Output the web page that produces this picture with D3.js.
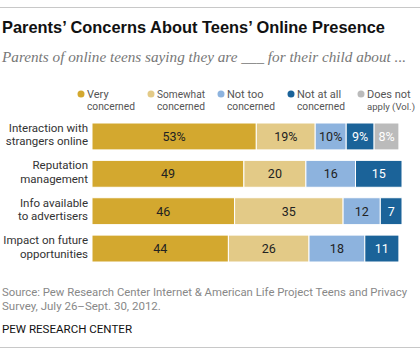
<!DOCTYPE html>
<html><head><meta charset="utf-8">
<script src="https://cdn.jsdelivr.net/npm/d3@7"></script>
<style>
html,body{margin:0;padding:0;background:#fff;}
svg{display:block;}
</style></head>
<body>
<svg id="chart" width="420" height="357"></svg>
<script>
const categories = [
  ["Interaction with","strangers online"],
  ["Reputation","management"],
  ["Info available","to advertisers"],
  ["Impact on future","opportunities"]
];
const seriesKeys = ["very","somewhat","notToo","notAtAll","na"];
const seriesLabels = [["Very","concerned"],["Somewhat","concerned"],["Not too","concerned"],["Not at all","concerned"],["Does not","apply (Vol.)"]];
const veryConcerned     = [53,49,46,44];
const somewhatConcerned = [19,20,35,26];
const notTooConcerned   = [10,16,12,18];
const notAtAllConcerned = [9,15,7,11];
const doesNotApply      = [8,0,0,0];
const colors = ["#D3A82F","#E3CA87","#8DB3DE","#1B6399","#BBBBBB"];
const textColors = ["#222","#222","#222","#fff","#fff"];

const title = "Parents\u2019 Concerns About Teens\u2019 Online Presence";
const subtitle = "Parents of online teens saying they are ___ for their child about ...";
const source1 = "Source: Pew Research Center Internet & American Life Project Teens and Privacy";
const source2 = "Survey, July 26\u2013Sept. 30, 2012.";
const credit = "PEW RESEARCH CENTER";

const seriesValues = [veryConcerned, somewhatConcerned, notTooConcerned, notAtAllConcerned, doesNotApply];
const rows = categories.map((c,i)=>{
  const r = {idx:i};
  seriesKeys.forEach((k,j)=> r[k] = seriesValues[j][i]);
  return r;
});
const stacked = d3.stack().keys(seriesKeys)(rows);

const svg = d3.select("#chart");
const sans = "Roboto, 'Liberation Sans', sans-serif";

// rules
svg.append("line").attr("x1",0).attr("x2",420).attr("y1",7.5).attr("y2",7.5).attr("stroke","#c8c8c8");
svg.append("line").attr("x1",0).attr("x2",420).attr("y1",347.5).attr("y2",347.5).attr("stroke","#c8c8c8");

function fit(sel, w){ sel.attr("textLength",w).attr("lengthAdjust","spacingAndGlyphs"); }
function shrinkTo(sel, w){ sel.each(function(){ const n=this; const cw=n.getComputedTextLength(); if(cw>w){ const fs=parseFloat(d3.select(n).attr("font-size")); d3.select(n).attr("font-size",fs*w/cw); } }); }

svg.append("text").attr("x",2).attr("y",33).attr("font-family","'Liberation Sans', Arial, sans-serif")
  .attr("font-weight","bold").attr("font-size",17).attr("fill","#111").text(title).call(fit,383);
svg.append("text").attr("x",2).attr("y",62).attr("font-family","'Liberation Serif', 'DejaVu Serif', serif")
  .attr("font-style","italic").attr("font-size",14.5).attr("fill","#777").text(subtitle).call(fit,404);

// legend
const lx = d3.scalePoint().domain(seriesKeys).range([81,361]);
const lg = svg.append("g").selectAll("g").data(seriesKeys).join("g")
  .attr("transform",d=>`translate(${lx(d)},0)`);
lg.append("circle").attr("cx",0).attr("cy",94).attr("r",3.5).attr("fill",(d,i)=>colors[i]);
lg.append("text").attr("x",6).attr("y",98).attr("font-family",sans).attr("font-size",11).attr("fill","#555")
  .text((d,i)=>seriesLabels[i][0]).call(shrinkTo,48);
lg.append("text").attr("x",6).attr("y",110).attr("font-family",sans).attr("font-size",11).attr("fill","#555")
  .text((d,i)=>seriesLabels[i][1]).call(shrinkTo,48);

// scales
const x = d3.scaleLinear().domain([0,100]).range([92,402]);
const y = d3.scaleBand().domain(categories.map((c,i)=>i)).range([123,262]).paddingInner(0.28);

// bars
const layers = svg.append("g").selectAll("g").data(stacked).join("g")
  .attr("fill",(d,i)=>colors[i]);
layers.selectAll("rect").data(d=>d.filter(s=>s[1]-s[0]>0)).join("rect")
  .attr("x",d=>x(d[0])).attr("width",d=>x(d[1])-x(d[0]))
  .attr("y",d=>y(d.data.idx)).attr("height",y.bandwidth())
  .attr("stroke","#fff").attr("stroke-width",1);

// value labels
stacked.forEach((layer,j)=>{
  svg.append("g").selectAll("text").data(layer.filter(s=>s[1]-s[0]>0)).join("text")
    .attr("x",d=>(x(d[0])+x(d[1]))/2).attr("y",d=>y(d.data.idx)+y.bandwidth()/2+4.5)
    .attr("text-anchor","middle").attr("font-family",sans).attr("font-size",12.5)
    .attr("fill",textColors[j])
    .text(d=>(d[1]-d[0]) + (d.data.idx===0?"%":""));
});

// category labels
const cl = svg.append("g").selectAll("text").data(categories).join("text")
  .attr("text-anchor","end").attr("font-family",sans).attr("font-size",11.5).attr("fill","#333");
cl.append("tspan").attr("x",88).attr("y",(d,i)=>y(i)+y.bandwidth()/2-4.5).text(d=>d[0]);
cl.append("tspan").attr("x",88).attr("y",(d,i)=>y(i)+y.bandwidth()/2+9).text(d=>d[1]);

// source
svg.append("text").attr("x",2).attr("y",296).attr("font-family",sans).attr("font-size",11.5).attr("fill","#888").text(source1).call(fit,405);
svg.append("text").attr("x",2).attr("y",310).attr("font-family",sans).attr("font-size",11.5).attr("fill","#888").text(source2);
svg.append("text").attr("x",2).attr("y",333).attr("font-family",sans).attr("font-size",11).attr("fill","#111").text(credit).call(fit,130);
</script>
</body></html>
